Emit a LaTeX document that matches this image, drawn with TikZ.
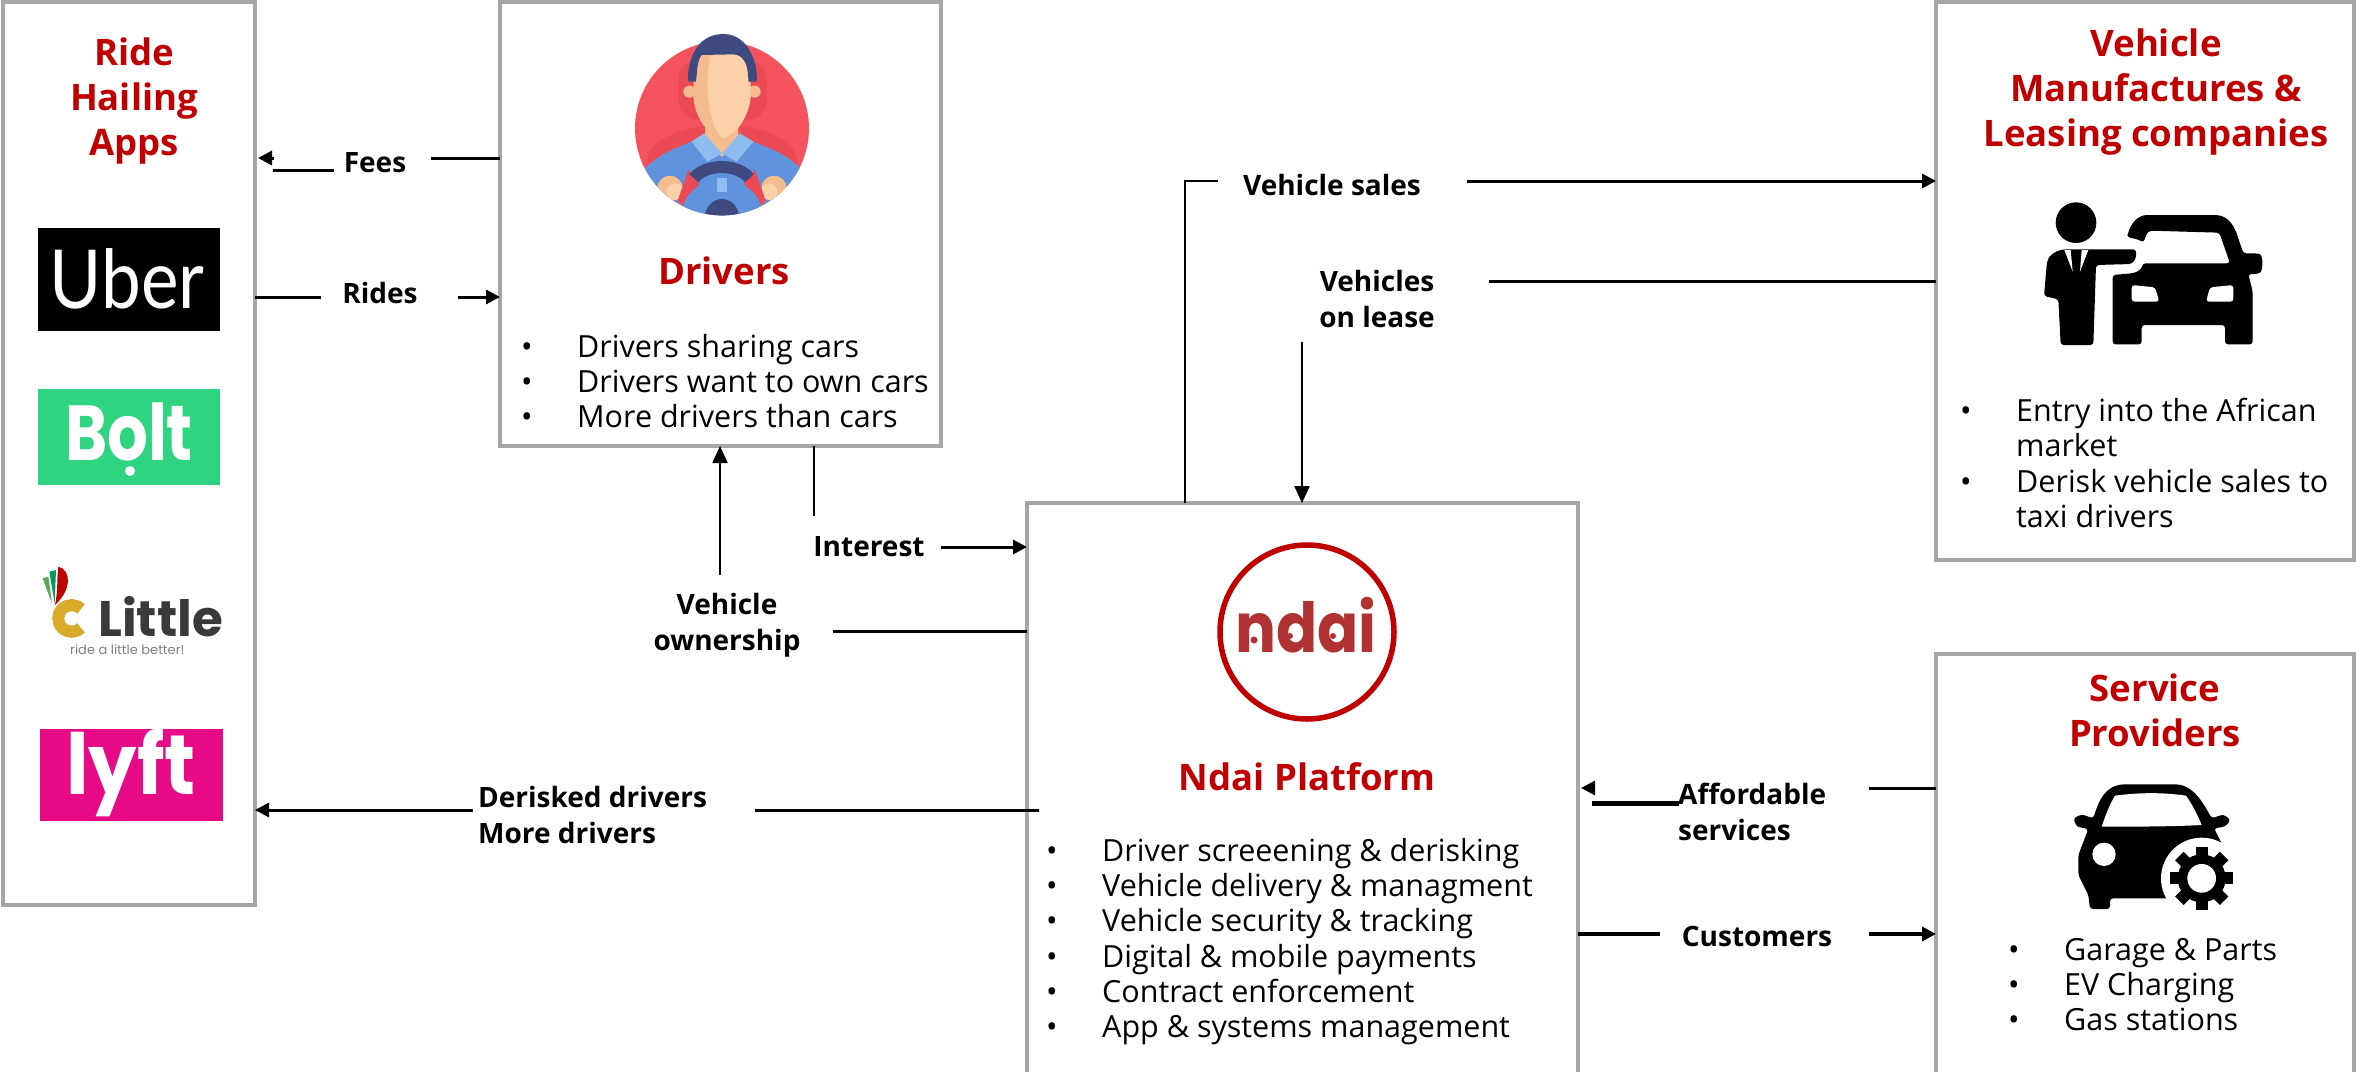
\documentclass[tikz,border=0pt]{standalone}
\usepackage{fontspec}
\usetikzlibrary{arrows.meta}
\setmainfont{Open Sans}
\newfontfamily\logofont{Poppins}
\newfontfamily\uberfont{Lato}
\definecolor{boxgray}{HTML}{A6A6A6}
\definecolor{titlered}{HTML}{C00000}
\definecolor{ndaired}{HTML}{B03232}
\definecolor{seatred}{HTML}{F4525C}
\definecolor{seatdark}{HTML}{EB4A55}
\definecolor{hairblue}{HTML}{3F4A80}
\definecolor{skinlight}{HTML}{FAD1A8}
\definecolor{skindark}{HTML}{F5BC8F}
\definecolor{shirtblue}{HTML}{5F93DE}
\definecolor{collarblue}{HTML}{8FBDF0}
\definecolor{boltgreen}{HTML}{2ED480}
\definecolor{lyftpink}{HTML}{E60A86}
\definecolor{littlegold}{HTML}{D8AC2A}
\definecolor{littledark}{HTML}{3A3A3A}
\newcommand{\bl}{\makebox[56pt][l]{\raisebox{0pt}{•}}}
\newcommand{\blin}{\hspace*{56pt}}
\tikzset{
  box/.style={draw=boxgray,line width=3.5pt,fill=white,anchor=north west,inner sep=0pt,outer sep=0pt,minimum width=#1},
  title/.style={text=titlered,font=\fontsize{36.5}{45}\selectfont\bfseries,align=center,inner sep=0pt},
  flow/.style={font=\fontsize{28}{36}\selectfont\bfseries,align=center,inner sep=0pt},
  flowleft/.style={font=\fontsize{28}{36}\selectfont\bfseries,align=left,inner sep=0pt,anchor=west},
  items/.style={font=\fontsize{30.5}{35.3}\selectfont,align=left,inner sep=0pt,anchor=north west},
  seg/.style={draw=black,line width=3pt},
  thinseg/.style={draw=black,line width=2.2pt},
  arr/.style={seg,-{Triangle[length=14pt,width=14pt]}},
  thinarr/.style={thinseg,-{Triangle[length=17pt,width=15pt]}},
  logotext/.style={inner sep=0pt,anchor=center}
}
\begin{document}
\begin{tikzpicture}[x=1pt,y=-1pt]
\useasboundingbox (0,0) rectangle (2356,1071);
% boxes
\node[box=252pt,minimum height=903pt] (ride) at (3,2) {};
\node[box=441pt,minimum height=444pt] (drivers) at (500,2) {};
\node[box=551pt,minimum height=573pt] (ndai) at (1027,503) {};
\node[box=418pt,minimum height=558pt] (vehicle) at (1936,2) {};
\node[box=418pt,minimum height=421pt] (service) at (1936,654) {};
% titles
\node[title] (rideT) at (134,101) {Ride\\Hailing\\Apps};
\node[title] (driversT) at (724,271) {Drivers};
\node[title] (ndaiT) at (1307,777) {Ndai Platform};
\node[title] (vehicleT) at (2156,92) {Vehicle\\Manufactures \&\\Leasing companies};
\node[title] (serviceT) at (2155,710) {Service\\Providers};
% lists
\node[items] (driversL) at (521,334) {\bl Drivers sharing cars\\\bl Drivers want to own cars\\\bl More drivers than cars};
\node[items] (ndaiL) at (1046,838) {\bl Driver screeening \& derisking\\\bl Vehicle delivery \& managment\\\bl Vehicle security \& tracking\\\bl Digital \& mobile payments\\\bl Contract enforcement\\\bl App \& systems management};
\node[items] (vehicleL) at (1960,398) {\bl Entry into the African\\\blin market\\\bl Derisk vehicle sales to\\\blin taxi drivers};
\node[items] (serviceL) at (2008,938) {\bl Garage \& Parts\\\bl EV Charging\\\bl Gas stations};
% flow labels
\node[flow] (feesL) at (375,163) {Fees};
\node[flow] (ridesL) at (380,293) {Rides};
\node[flow] (interestL) at (869,547) {Interest};
\node[flow] (ownL) at (727,625) {Vehicle\\ownership};
\node[flowleft] (derL) at (478,815) {Derisked drivers\\More drivers};
\node[flow] (salesL) at (1332,185) {Vehicle sales};
\node[flow] (leaseL) at (1377,299) {Vehicles\\on lease};
\node[flowleft] (affL) at (1678,812) {Affordable\\services};
\node[flow] (custL) at (1757,936) {Customers};
% connector ends
\coordinate (feesA) at (431,158);
\coordinate (feesB) at (334,170);
\coordinate (feesC) at (273,170);
\coordinate (feesD) at (274,158);
\coordinate (feesE) at (258,158);
\coordinate (ridesA) at (321,297);
\coordinate (ridesB) at (458,297);
\coordinate (ownA) at (720,575);
\coordinate (intA) at (814,516);
\coordinate (intB) at (941,547);
\coordinate (ownB) at (833,631);
\coordinate (derA) at (473,810);
\coordinate (derB) at (755,810);
\coordinate (derC) at (1039,810);
\coordinate (salesA) at (1185,181);
\coordinate (salesB) at (1218,181);
\coordinate (salesC) at (1467,181);
\coordinate (leaseA) at (1489,281);
\coordinate (leaseB) at (1302,342);
\coordinate (affA) at (1869,788);
\coordinate (affB) at (1679,803);
\coordinate (affC) at (1592,803);
\coordinate (affD) at (1594,788);
\coordinate (affE) at (1581,788);
\coordinate (custA) at (1660,934);
\coordinate (custB) at (1869,934);
% connectors
\draw[seg] (drivers.west |- feesA) -- (feesA);
\draw[seg] (feesB) -- (feesC);
\draw[arr] (feesD) -- (feesE);
\draw[seg] (ride.east |- ridesA) -- (ridesA);
\draw[arr] (ridesB) -- (drivers.west |- ridesB);
\draw[thinarr] (ownA) -- (ownA |- drivers.south);
\draw[thinseg] (intA |- drivers.south) -- (intA);
\draw[arr] (intB) -- (ndai.west |- intB);
\draw[seg] (ownB) -- (ndai.west |- ownB);
\draw[arr] (derA) -- (ride.east |- derA);
\draw[seg] (derB) -- (derC);
\draw[thinseg] (salesA |- ndai.north) -- (salesA) -- (salesB);
\draw[arr] (salesC) -- (vehicle.west |- salesC);
\draw[seg] (vehicle.west |- leaseA) -- (leaseA);
\draw[thinarr] (leaseB) -- (leaseB |- ndai.north);
\draw[seg] (service.west |- affA) -- (affA);
\draw[seg,line width=5pt] (affB) -- (affC);
\draw[arr] (affD) -- (affE);
\draw[seg,line width=3.5pt] (ndai.east |- custA) -- (custA);
\draw[arr,line width=3.5pt] (custB) -- (service.west |- custB);
% Uber
\fill[black] (38,228) rectangle (220,331);
\node[logotext,text=white] (uberT) at (127,279) {\scalebox{0.96}[1.1]{\uberfont\fontsize{74}{74}\selectfont Uber}};
% Bolt
\fill[boltgreen] (38,389) rectangle (220,485);
\node[logotext,text=white] (boltT) at (129,432) {\scalebox{0.82}[1]{\logofont\bfseries\fontsize{78}{78}\selectfont Bolt}};
\fill[white] (130,471) circle (5);
% Little
\begin{scope}[shift={(30,535)},scale=1/3]
\fill[gray!70!green] (38,130) -- (55,125) -- (66,205) -- cycle;
\fill[teal!80!green] (58,110) -- (78,105) -- (74,205) -- cycle;
\fill[red!75!black] (85,95) .. controls (125,105) and (125,165) .. (75,210) .. controls (85,160) and (80,130) .. (85,95) -- cycle;
\draw[littlegold,line width=12pt] (153,222) arc (-45:-315:40);
\end{scope}
\node[logotext,anchor=south west,align=left,text=gray,font=\logofont\fontsize{13}{18}\selectfont] (littleT) at (70,655) {\hspace*{28pt}\textcolor{littledark}{\bfseries\fontsize{50}{18}\selectfont Little}\\ride a little better!};
% Lyft
\fill[lyftpink] (40,729) rectangle (223,821);
\node[logotext,text=white] (lyftT) at (131,773) {\scalebox{0.98}[1.08]{\logofont\bfseries\fontsize{78}{78}\selectfont lyft}};
% Driver illustration
\begin{scope}[shift={(620,20)},scale=1/3]
\fill[seatred] (306,325) circle (261);
\begin{scope}
\clip (306,325) circle (261);
\fill[seatdark,rounded corners=20pt] (175,120) rectangle (440,300);
\fill[seatdark] (306,425) ellipse (225 and 110);
\fill[shirtblue] (60,460) .. controls (120,395) and (170,385) .. (225,360) -- (390,360) .. controls (440,385) and (500,395) .. (555,460) -- (555,600) -- (60,600) -- cycle;
\fill[skindark] (150,505) circle (38);
\fill[skindark] (462,505) circle (38);
\fill[skinlight] (165,515) circle (25);
\fill[skinlight] (447,515) circle (25);
\fill[seatdark] (205,450) -- (238,490) -- (198,560) -- (172,545) -- cycle;
\fill[seatdark] (405,450) -- (372,490) -- (412,560) -- (438,545) -- cycle;
\fill[shirtblue] (306,575) ellipse (118 and 95);
\draw[hairblue,line width=12pt] (222,475) .. controls (255,430) and (355,430) .. (388,475);
\fill[collarblue] (290,475) rectangle (322,515);
\fill[hairblue] (306,595) ellipse (52 and 58);
\end{scope}
\fill[skindark] (255,310) -- (355,310) -- (355,365) -- (306,410) -- (255,365) -- cycle;
\fill[collarblue] (215,365) -- (252,340) -- (306,400) -- (262,425) -- cycle;
\fill[collarblue] (400,365) -- (360,340) -- (306,400) -- (350,425) -- cycle;
\fill[skindark] (208,215) circle (18);
\fill[skindark] (404,215) circle (18);
\fill[skindark] (222,90) -- (390,90) -- (392,230) .. controls (385,300) and (340,350) .. (306,355) .. controls (270,350) and (225,300) .. (220,230) -- cycle;
\fill[skinlight] (275,90) -- (390,90) -- (392,230) .. controls (385,300) and (340,350) .. (306,355) .. controls (265,310) and (250,190) .. (275,90) -- cycle;
\fill[hairblue] (205,185) .. controls (200,130) and (225,42) .. (310,42) .. controls (385,42) and (415,130) .. (410,185) -- (385,185) .. controls (385,130) and (370,105) .. (340,103) -- (245,105) .. controls (232,120) and (232,150) .. (228,185) -- cycle;
\end{scope}
% Ndai logo
\draw[titlered,line width=5.5pt] (1307,632) circle (87);
\node[logotext,text=ndaired] (ndaiW) at (1306,625) {\scalebox{0.88}[1]{\logofont\bfseries\fontsize{69}{69}\selectfont ndai}};
\fill[ndaired] (1254,640) circle (3.5);
\fill[ndaired] (1290,636) circle (3);
\fill[ndaired] (1333,636) circle (3);
% Vehicle icon
\begin{scope}[shift={(2030,190)},scale=1/3]
\fill[black] (138,98) circle (61);
\fill[black,rounded corners=3pt] (292,142) .. controls (300,100) and (325,75) .. (360,75) -- (545,75) .. controls (590,75) and (610,100) .. (625,145) -- (640,190) -- (680,190) .. controls (700,195) and (700,245) .. (680,252) -- (655,252) -- (668,305) -- (668,463) -- (585,463) -- (585,405) -- (335,405) -- (335,463) -- (248,463) -- (248,255) -- (305,250) .. controls (325,245) and (335,235) .. (338,220) -- (600,220) -- (568,128) -- (360,122) .. controls (350,130) and (345,145) .. (340,158) .. controls (325,148) and (310,145) .. (292,142) -- cycle;
\fill[black,rounded corners=3pt] (42,318) -- (50,225) .. controls (55,195) and (75,185) .. (100,178) -- (318,178) -- (318,205) -- (305,222) -- (198,225) -- (190,465) -- (92,465) -- (85,328) -- cycle;
\fill[white] (103,180) -- (128,245) -- (122,180) -- cycle;
\fill[white] (175,180) -- (150,245) -- (155,180) -- cycle;
\fill[white,rounded corners=3pt] (305,285) -- (375,292) -- (388,335) -- (305,335) -- cycle;
\fill[white,rounded corners=3pt] (610,285) -- (540,292) -- (528,335) -- (610,335) -- cycle;
\end{scope}
% Service icon
\begin{scope}[shift={(2060,775)},scale=1/3]
\fill[black,rounded corners=3pt] (100,130) .. controls (115,80) and (135,30) .. (200,28) -- (340,28) .. controls (400,30) and (430,85) .. (455,130) -- (490,118) -- (512,135) -- (495,155) -- (462,160) -- (490,215) -- (490,370) -- (150,370) -- (150,402) -- (90,402) -- (85,360) -- (55,300) -- (55,240) -- (85,162) -- (50,155) -- (40,130) -- (65,118) -- cycle;
\fill[white] (125,155) .. controls (135,125) and (150,85) .. (165,62) .. controls (240,52) and (310,52) .. (378,62) .. controls (395,85) and (415,125) .. (425,150) .. controls (330,155) and (220,155) .. (125,155) -- cycle;
\fill[white] (132,238) circle (35);
\fill[white] (425,310) circle (122);
\fill[black] (425,310) circle (72);
\foreach \a in {0,45,...,315} {\fill[black,rotate around={\a:(425,310)}] (407,215) rectangle (443,250);}
\fill[white] (425,310) circle (43);
\end{scope}
\end{tikzpicture}
\end{document}
